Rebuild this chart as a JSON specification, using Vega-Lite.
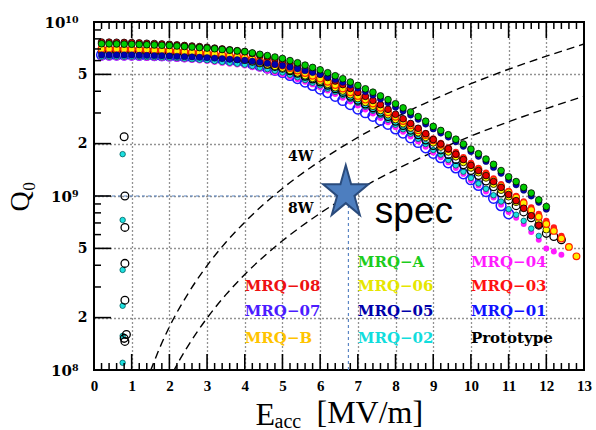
{
"$schema": "https://vega.github.io/schema/vega-lite/v6.json",
"width": 490, "height": 348,
"autosize": "none",
"padding": {"left": 94, "top": 22, "right": 12, "bottom": 60},
"background": "white",
"config": {"view": {"stroke": "black", "strokeWidth": 2}},
"resolve": {"axis": {"x": "independent", "y": "independent"}},
"datasets": {
"w4": [{"e":1.5,"q":9.9e7},{"e":1.75,"q":1.35e8},{"e":2.0,"q":1.77e8},{"e":2.5,"q":2.76e8},{"e":3.0,"q":3.98e8},{"e":3.5,"q":5.42e8},{"e":4.0,"q":7.07e8},{"e":4.5,"q":8.95e8},{"e":5.0,"q":1.105e9},{"e":6.0,"q":1.59e9},{"e":7.0,"q":2.17e9},{"e":8.0,"q":2.83e9},{"e":9.0,"q":3.58e9},{"e":10.0,"q":4.42e9},{"e":11.0,"q":5.35e9},{"e":12.0,"q":6.36e9},{"e":13.0,"q":7.47e9}],
"w8": [{"e":2.1,"q":9.75e7},{"e":2.25,"q":1.12e8},{"e":2.5,"q":1.38e8},{"e":3.0,"q":1.99e8},{"e":3.5,"q":2.71e8},{"e":4.0,"q":3.54e8},{"e":4.5,"q":4.48e8},{"e":5.0,"q":5.53e8},{"e":6.0,"q":7.96e8},{"e":7.0,"q":1.083e9},{"e":8.0,"q":1.414e9},{"e":9.0,"q":1.79e9},{"e":10.0,"q":2.21e9},{"e":11.0,"q":2.67e9},{"e":12.0,"q":3.18e9},{"e":13.0,"q":3.74e9}],
"mrq01": [{"e":0.2,"q":6.46e9},{"e":0.4,"q":6.46e9},{"e":0.6,"q":6.46e9},{"e":0.8,"q":6.46e9},{"e":1.0,"q":6.46e9},{"e":1.2,"q":6.44e9},{"e":1.4,"q":6.43e9},{"e":1.6,"q":6.41e9},{"e":1.8,"q":6.40e9},{"e":2.0,"q":6.38e9},{"e":2.2,"q":6.35e9},{"e":2.4,"q":6.32e9},{"e":2.6,"q":6.30e9},{"e":2.8,"q":6.27e9},{"e":3.0,"q":6.24e9},{"e":3.2,"q":6.17e9},{"e":3.4,"q":6.10e9},{"e":3.6,"q":6.03e9},{"e":3.8,"q":5.96e9},{"e":4.0,"q":5.89e9},{"e":4.2,"q":5.74e9},{"e":4.4,"q":5.59e9},{"e":4.6,"q":5.43e9},{"e":4.8,"q":5.28e9},{"e":5.0,"q":5.13e9},{"e":5.2,"q":4.93e9},{"e":5.4,"q":4.73e9},{"e":5.6,"q":4.52e9},{"e":5.8,"q":4.32e9},{"e":6.0,"q":4.12e9},{"e":6.2,"q":3.93e9},{"e":6.4,"q":3.74e9},{"e":6.6,"q":3.54e9},{"e":6.8,"q":3.35e9},{"e":7.0,"q":3.16e9},{"e":7.2,"q":3.01e9},{"e":7.4,"q":2.87e9},{"e":7.6,"q":2.72e9},{"e":7.8,"q":2.58e9},{"e":8.0,"q":2.43e9},{"e":8.2,"q":2.30e9},{"e":8.4,"q":2.16e9},{"e":8.6,"q":2.03e9},{"e":8.8,"q":1.89e9},{"e":9.0,"q":1.76e9},{"e":9.2,"q":1.66e9},{"e":9.4,"q":1.55e9},{"e":9.6,"q":1.45e9},{"e":9.8,"q":1.34e9},{"e":10.0,"q":1.24e9},{"e":10.2,"q":1.15e9},{"e":10.4,"q":1.06e9},{"e":10.6,"q":0.97e9},{"e":10.8,"q":0.88e9},{"e":11.0,"q":0.79e9}],
"mrq04": [{"e":0.2,"q":6.24e9},{"e":0.4,"q":6.24e9},{"e":0.6,"q":6.24e9},{"e":0.8,"q":6.24e9},{"e":1.0,"q":6.24e9},{"e":1.2,"q":6.23e9},{"e":1.4,"q":6.21e9},{"e":1.6,"q":6.20e9},{"e":1.8,"q":6.18e9},{"e":2.0,"q":6.17e9},{"e":2.2,"q":6.13e9},{"e":2.4,"q":6.09e9},{"e":2.6,"q":6.04e9},{"e":2.8,"q":6.00e9},{"e":3.0,"q":5.96e9},{"e":3.2,"q":5.89e9},{"e":3.4,"q":5.82e9},{"e":3.6,"q":5.76e9},{"e":3.8,"q":5.69e9},{"e":4.0,"q":5.62e9},{"e":4.2,"q":5.50e9},{"e":4.4,"q":5.38e9},{"e":4.6,"q":5.25e9},{"e":4.8,"q":5.13e9},{"e":5.0,"q":5.01e9},{"e":5.2,"q":4.85e9},{"e":5.4,"q":4.69e9},{"e":5.6,"q":4.54e9},{"e":5.8,"q":4.38e9},{"e":6.0,"q":4.22e9},{"e":6.2,"q":4.04e9},{"e":6.4,"q":3.86e9},{"e":6.6,"q":3.67e9},{"e":6.8,"q":3.49e9},{"e":7.0,"q":3.31e9},{"e":7.2,"q":3.14e9},{"e":7.4,"q":2.98e9},{"e":7.6,"q":2.81e9},{"e":7.8,"q":2.65e9},{"e":8.0,"q":2.48e9},{"e":8.2,"q":2.34e9},{"e":8.4,"q":2.20e9},{"e":8.6,"q":2.06e9},{"e":8.8,"q":1.92e9},{"e":9.0,"q":1.78e9},{"e":9.2,"q":1.67e9},{"e":9.4,"q":1.56e9},{"e":9.6,"q":1.45e9},{"e":9.8,"q":1.34e9},{"e":10.0,"q":1.23e9},{"e":10.2,"q":1.15e9},{"e":10.4,"q":1.06e9},{"e":10.6,"q":0.98e9},{"e":10.8,"q":0.89e9},{"e":11.0,"q":0.81e9},{"e":11.2,"q":0.75e9},{"e":11.4,"q":0.69e9},{"e":11.6,"q":0.62e9},{"e":11.8,"q":0.56e9},{"e":12.0,"q":0.50e9},{"e":12.2,"q":0.48e9},{"e":12.4,"q":0.46e9}],
"mrq02": [{"e":0.2,"q":6.31e9},{"e":0.4,"q":6.31e9},{"e":0.6,"q":6.31e9},{"e":0.8,"q":6.31e9},{"e":1.0,"q":6.31e9},{"e":1.2,"q":6.30e9},{"e":1.4,"q":6.28e9},{"e":1.6,"q":6.27e9},{"e":1.8,"q":6.25e9},{"e":2.0,"q":6.24e9},{"e":2.2,"q":6.20e9},{"e":2.4,"q":6.16e9},{"e":2.6,"q":6.11e9},{"e":2.8,"q":6.07e9},{"e":3.0,"q":6.03e9},{"e":3.2,"q":5.96e9},{"e":3.4,"q":5.89e9},{"e":3.6,"q":5.83e9},{"e":3.8,"q":5.76e9},{"e":4.0,"q":5.69e9},{"e":4.2,"q":5.58e9},{"e":4.4,"q":5.46e9},{"e":4.6,"q":5.36e9},{"e":4.8,"q":5.24e9},{"e":5.0,"q":5.13e9},{"e":5.2,"q":4.97e9},{"e":5.4,"q":4.81e9},{"e":5.6,"q":4.64e9},{"e":5.8,"q":4.48e9},{"e":6.0,"q":4.32e9},{"e":6.2,"q":4.14e9},{"e":6.4,"q":3.97e9},{"e":6.6,"q":3.79e9},{"e":6.8,"q":3.61e9},{"e":7.0,"q":3.43e9},{"e":7.2,"q":3.26e9},{"e":7.4,"q":3.09e9},{"e":7.6,"q":2.91e9},{"e":7.8,"q":2.74e9},{"e":8.0,"q":2.57e9},{"e":8.2,"q":2.42e9},{"e":8.4,"q":2.28e9},{"e":8.6,"q":2.13e9},{"e":8.8,"q":1.99e9},{"e":9.0,"q":1.84e9},{"e":9.2,"q":1.73e9},{"e":9.4,"q":1.61e9},{"e":9.6,"q":1.50e9},{"e":9.8,"q":1.38e9},{"e":10.0,"q":1.27e9},{"e":10.2,"q":1.18e9},{"e":10.4,"q":1.10e9},{"e":10.6,"q":1.01e9},{"e":10.8,"q":0.93e9},{"e":11.0,"q":0.84e9},{"e":11.2,"q":0.78e9},{"e":11.4,"q":0.72e9},{"e":11.6,"q":0.65e9},{"e":11.8,"q":0.59e9},{"e":0.76,"q":1.74e9},{"e":0.76,"q":7.28e8},{"e":0.76,"q":3.76e8},{"e":0.76,"q":2.34e8},{"e":0.76,"q":1.57e8},{"e":0.76,"q":1.1e8}],
"proto": [{"e":0.4,"q":6.92e9},{"e":0.6,"q":6.91e9},{"e":0.8,"q":6.90e9},{"e":1.0,"q":6.89e9},{"e":1.2,"q":6.86e9},{"e":1.4,"q":6.84e9},{"e":1.6,"q":6.81e9},{"e":1.8,"q":6.79e9},{"e":2.0,"q":6.76e9},{"e":2.2,"q":6.71e9},{"e":2.4,"q":6.65e9},{"e":2.6,"q":6.60e9},{"e":2.8,"q":6.54e9},{"e":3.0,"q":6.49e9},{"e":3.2,"q":6.41e9},{"e":3.4,"q":6.33e9},{"e":3.6,"q":6.26e9},{"e":3.8,"q":6.18e9},{"e":4.0,"q":6.10e9},{"e":4.2,"q":5.97e9},{"e":4.4,"q":5.83e9},{"e":4.6,"q":5.70e9},{"e":4.8,"q":5.56e9},{"e":5.0,"q":5.43e9},{"e":5.2,"q":5.25e9},{"e":5.4,"q":5.07e9},{"e":5.6,"q":4.88e9},{"e":5.8,"q":4.70e9},{"e":6.0,"q":4.52e9},{"e":6.2,"q":4.33e9},{"e":6.4,"q":4.13e9},{"e":6.6,"q":3.94e9},{"e":6.8,"q":3.74e9},{"e":7.0,"q":3.55e9},{"e":7.2,"q":3.38e9},{"e":7.4,"q":3.21e9},{"e":7.6,"q":3.03e9},{"e":7.8,"q":2.86e9},{"e":8.0,"q":2.69e9},{"e":8.2,"q":2.54e9},{"e":8.4,"q":2.39e9},{"e":8.6,"q":2.25e9},{"e":8.8,"q":2.10e9},{"e":9.0,"q":1.95e9},{"e":9.2,"q":1.84e9},{"e":9.4,"q":1.73e9},{"e":9.6,"q":1.62e9},{"e":9.8,"q":1.51e9},{"e":10.0,"q":1.40e9},{"e":10.2,"q":1.31e9},{"e":10.4,"q":1.22e9},{"e":10.6,"q":1.13e9},{"e":10.8,"q":1.04e9},{"e":11.0,"q":0.95e9},{"e":11.2,"q":0.88e9},{"e":11.4,"q":0.81e9},{"e":11.6,"q":0.75e9},{"e":11.8,"q":0.68e9},{"e":12.0,"q":0.61e9},{"e":12.2,"q":0.585e9},{"e":12.4,"q":0.56e9},{"e":0.80,"q":2.19e9},{"e":0.82,"q":1.0e9},{"e":0.82,"q":6.6e8},{"e":0.82,"q":4.1e8},{"e":0.82,"q":2.52e8},{"e":0.86,"q":1.6e8},{"e":0.82,"q":1.46e8},{"e":0.80,"q":1.52e8}],
"mrq06": [{"e":0.2,"q":6.76e9},{"e":0.4,"q":6.75e9},{"e":0.6,"q":6.75e9},{"e":0.8,"q":6.74e9},{"e":1.0,"q":6.73e9},{"e":1.2,"q":6.71e9},{"e":1.4,"q":6.68e9},{"e":1.6,"q":6.66e9},{"e":1.8,"q":6.63e9},{"e":2.0,"q":6.61e9},{"e":2.2,"q":6.56e9},{"e":2.4,"q":6.52e9},{"e":2.6,"q":6.47e9},{"e":2.8,"q":6.43e9},{"e":3.0,"q":6.38e9},{"e":3.2,"q":6.31e9},{"e":3.4,"q":6.24e9},{"e":3.6,"q":6.17e9},{"e":3.8,"q":6.10e9},{"e":4.0,"q":6.03e9},{"e":4.2,"q":5.91e9},{"e":4.4,"q":5.79e9},{"e":4.6,"q":5.67e9},{"e":4.8,"q":5.55e9},{"e":5.0,"q":5.43e9},{"e":5.2,"q":5.26e9},{"e":5.4,"q":5.09e9},{"e":5.6,"q":4.91e9},{"e":5.8,"q":4.74e9},{"e":6.0,"q":4.57e9},{"e":6.2,"q":4.38e9},{"e":6.4,"q":4.19e9},{"e":6.6,"q":4.01e9},{"e":6.8,"q":3.82e9},{"e":7.0,"q":3.63e9},{"e":7.2,"q":3.45e9},{"e":7.4,"q":3.28e9},{"e":7.6,"q":3.10e9},{"e":7.8,"q":2.93e9},{"e":8.0,"q":2.75e9},{"e":8.2,"q":2.60e9},{"e":8.4,"q":2.46e9},{"e":8.6,"q":2.31e9},{"e":8.8,"q":2.17e9},{"e":9.0,"q":2.02e9},{"e":9.2,"q":1.91e9},{"e":9.4,"q":1.79e9},{"e":9.6,"q":1.68e9},{"e":9.8,"q":1.56e9},{"e":10.0,"q":1.45e9},{"e":10.2,"q":1.36e9},{"e":10.4,"q":1.27e9},{"e":10.6,"q":1.17e9},{"e":10.8,"q":1.08e9},{"e":11.0,"q":0.99e9},{"e":11.2,"q":0.92e9},{"e":11.4,"q":0.85e9},{"e":11.6,"q":0.78e9},{"e":11.8,"q":0.71e9},{"e":12.0,"q":0.64e9}],
"mrq03": [{"e":0.2,"q":7.41e9},{"e":0.4,"q":7.40e9},{"e":0.6,"q":7.40e9},{"e":0.8,"q":7.39e9},{"e":1.0,"q":7.38e9},{"e":1.2,"q":7.35e9},{"e":1.4,"q":7.32e9},{"e":1.6,"q":7.30e9},{"e":1.8,"q":7.27e9},{"e":2.0,"q":7.24e9},{"e":2.2,"q":7.19e9},{"e":2.4,"q":7.13e9},{"e":2.6,"q":7.08e9},{"e":2.8,"q":7.02e9},{"e":3.0,"q":6.97e9},{"e":3.2,"q":6.88e9},{"e":3.4,"q":6.79e9},{"e":3.6,"q":6.71e9},{"e":3.8,"q":6.62e9},{"e":4.0,"q":6.53e9},{"e":4.2,"q":6.39e9},{"e":4.4,"q":6.25e9},{"e":4.6,"q":6.10e9},{"e":4.8,"q":5.96e9},{"e":5.0,"q":5.82e9},{"e":5.2,"q":5.64e9},{"e":5.4,"q":5.45e9},{"e":5.6,"q":5.27e9},{"e":5.8,"q":5.08e9},{"e":6.0,"q":4.90e9},{"e":6.2,"q":4.70e9},{"e":6.4,"q":4.50e9},{"e":6.6,"q":4.29e9},{"e":6.8,"q":4.09e9},{"e":7.0,"q":3.89e9},{"e":7.2,"q":3.70e9},{"e":7.4,"q":3.50e9},{"e":7.6,"q":3.31e9},{"e":7.8,"q":3.11e9},{"e":8.0,"q":2.92e9},{"e":8.2,"q":2.76e9},{"e":8.4,"q":2.61e9},{"e":8.6,"q":2.45e9},{"e":8.8,"q":2.30e9},{"e":9.0,"q":2.14e9},{"e":9.2,"q":2.02e9},{"e":9.4,"q":1.90e9},{"e":9.6,"q":1.79e9},{"e":9.8,"q":1.67e9},{"e":10.0,"q":1.55e9},{"e":10.2,"q":1.45e9},{"e":10.4,"q":1.36e9},{"e":10.6,"q":1.26e9},{"e":10.8,"q":1.17e9},{"e":11.0,"q":1.07e9},{"e":11.2,"q":1.00e9},{"e":11.4,"q":0.93e9},{"e":11.6,"q":0.86e9},{"e":11.8,"q":0.79e9},{"e":12.0,"q":0.72e9},{"e":12.2,"q":0.66e9},{"e":12.4,"q":0.59e9}],
"mrqB": [{"e":0.2,"q":7.00e9},{"e":0.4,"q":7.00e9},{"e":0.6,"q":6.99e9},{"e":0.8,"q":6.98e9},{"e":1.0,"q":6.97e9},{"e":1.2,"q":6.94e9},{"e":1.4,"q":6.92e9},{"e":1.6,"q":6.89e9},{"e":1.8,"q":6.87e9},{"e":2.0,"q":6.84e9},{"e":2.2,"q":6.79e9},{"e":2.4,"q":6.75e9},{"e":2.6,"q":6.70e9},{"e":2.8,"q":6.66e9},{"e":3.0,"q":6.61e9},{"e":3.2,"q":6.54e9},{"e":3.4,"q":6.46e9},{"e":3.6,"q":6.39e9},{"e":3.8,"q":6.31e9},{"e":4.0,"q":6.24e9},{"e":4.2,"q":6.12e9},{"e":4.4,"q":5.99e9},{"e":4.6,"q":5.87e9},{"e":4.8,"q":5.74e9},{"e":5.0,"q":5.62e9},{"e":5.2,"q":5.44e9},{"e":5.4,"q":5.26e9},{"e":5.6,"q":5.09e9},{"e":5.8,"q":4.91e9},{"e":6.0,"q":4.73e9},{"e":6.2,"q":4.54e9},{"e":6.4,"q":4.34e9},{"e":6.6,"q":4.15e9},{"e":6.8,"q":3.95e9},{"e":7.0,"q":3.76e9},{"e":7.2,"q":3.58e9},{"e":7.4,"q":3.40e9},{"e":7.6,"q":3.21e9},{"e":7.8,"q":3.03e9},{"e":8.0,"q":2.85e9},{"e":8.2,"q":2.70e9},{"e":8.4,"q":2.55e9},{"e":8.6,"q":2.39e9},{"e":8.8,"q":2.24e9},{"e":9.0,"q":2.09e9},{"e":9.2,"q":1.97e9},{"e":9.4,"q":1.86e9},{"e":9.6,"q":1.74e9},{"e":9.8,"q":1.63e9},{"e":10.0,"q":1.51e9},{"e":10.2,"q":1.42e9},{"e":10.4,"q":1.33e9},{"e":10.6,"q":1.23e9},{"e":10.8,"q":1.14e9},{"e":11.0,"q":1.05e9},{"e":11.2,"q":0.98e9},{"e":11.4,"q":0.91e9},{"e":11.6,"q":0.83e9},{"e":11.8,"q":0.76e9},{"e":12.0,"q":0.69e9},{"e":12.2,"q":0.63e9},{"e":12.4,"q":0.57e9},{"e":12.6,"q":0.51e9},{"e":12.8,"q":0.45e9}],
"mrq08": [{"e":0.2,"q":7.67e9},{"e":0.4,"q":7.66e9},{"e":0.6,"q":7.65e9},{"e":0.8,"q":7.63e9},{"e":1.0,"q":7.62e9},{"e":1.2,"q":7.59e9},{"e":1.4,"q":7.55e9},{"e":1.6,"q":7.52e9},{"e":1.8,"q":7.48e9},{"e":2.0,"q":7.45e9},{"e":2.2,"q":7.39e9},{"e":2.4,"q":7.33e9},{"e":2.6,"q":7.28e9},{"e":2.8,"q":7.22e9},{"e":3.0,"q":7.16e9},{"e":3.2,"q":7.08e9},{"e":3.4,"q":7.00e9},{"e":3.6,"q":6.92e9},{"e":3.8,"q":6.84e9},{"e":4.0,"q":6.76e9},{"e":4.2,"q":6.60e9},{"e":4.4,"q":6.44e9},{"e":4.6,"q":6.28e9},{"e":4.8,"q":6.12e9},{"e":5.0,"q":5.96e9},{"e":5.2,"q":5.77e9},{"e":5.4,"q":5.58e9},{"e":5.6,"q":5.39e9},{"e":5.8,"q":5.20e9},{"e":6.0,"q":5.01e9},{"e":6.2,"q":4.80e9},{"e":6.4,"q":4.58e9},{"e":6.6,"q":4.37e9},{"e":6.8,"q":4.15e9},{"e":7.0,"q":3.94e9},{"e":7.2,"q":3.74e9},{"e":7.4,"q":3.54e9},{"e":7.6,"q":3.35e9},{"e":7.8,"q":3.15e9},{"e":8.0,"q":2.95e9},{"e":8.2,"q":2.78e9},{"e":8.4,"q":2.61e9},{"e":8.6,"q":2.45e9},{"e":8.8,"q":2.28e9},{"e":9.0,"q":2.11e9},{"e":9.2,"q":1.99e9},{"e":9.4,"q":1.87e9},{"e":9.6,"q":1.74e9},{"e":9.8,"q":1.62e9},{"e":10.0,"q":1.50e9},{"e":10.2,"q":1.40e9},{"e":10.4,"q":1.31e9},{"e":10.6,"q":1.21e9},{"e":10.8,"q":1.12e9},{"e":11.0,"q":1.02e9},{"e":11.2,"q":0.94e9},{"e":11.4,"q":0.85e9},{"e":11.6,"q":0.77e9},{"e":11.8,"q":0.68e9}],
"mrq05": [{"e":0.2,"q":6.46e9},{"e":0.4,"q":6.46e9},{"e":0.6,"q":6.46e9},{"e":0.8,"q":6.46e9},{"e":1.0,"q":6.46e9},{"e":1.2,"q":6.44e9},{"e":1.4,"q":6.43e9},{"e":1.6,"q":6.41e9},{"e":1.8,"q":6.40e9},{"e":2.0,"q":6.38e9},{"e":2.2,"q":6.35e9},{"e":2.4,"q":6.32e9},{"e":2.6,"q":6.30e9},{"e":2.8,"q":6.27e9},{"e":3.0,"q":6.24e9},{"e":3.2,"q":6.20e9},{"e":3.4,"q":6.16e9},{"e":3.6,"q":6.11e9},{"e":3.8,"q":6.07e9},{"e":4.0,"q":6.03e9},{"e":4.2,"q":5.95e9},{"e":4.4,"q":5.87e9},{"e":4.6,"q":5.78e9},{"e":4.8,"q":5.70e9},{"e":5.0,"q":5.62e9},{"e":5.2,"q":5.50e9},{"e":5.4,"q":5.38e9},{"e":5.6,"q":5.25e9},{"e":5.8,"q":5.13e9},{"e":6.0,"q":5.01e9},{"e":6.2,"q":4.84e9},{"e":6.4,"q":4.67e9},{"e":6.6,"q":4.51e9},{"e":6.8,"q":4.34e9},{"e":7.0,"q":4.17e9},{"e":7.2,"q":3.98e9},{"e":7.4,"q":3.80e9},{"e":7.6,"q":3.61e9},{"e":7.8,"q":3.43e9},{"e":8.0,"q":3.24e9},{"e":8.2,"q":3.08e9},{"e":8.4,"q":2.92e9},{"e":8.6,"q":2.76e9},{"e":8.8,"q":2.59e9},{"e":9.0,"q":2.43e9},{"e":9.2,"q":2.30e9},{"e":9.4,"q":2.18e9},{"e":9.6,"q":2.05e9},{"e":9.8,"q":1.93e9},{"e":10.0,"q":1.80e9},{"e":10.2,"q":1.69e9},{"e":10.4,"q":1.58e9},{"e":10.6,"q":1.46e9},{"e":10.8,"q":1.35e9},{"e":11.0,"q":1.24e9},{"e":11.2,"q":1.16e9},{"e":11.4,"q":1.08e9},{"e":11.6,"q":1.00e9},{"e":11.8,"q":0.92e9},{"e":12.0,"q":0.84e9}],
"mrqA": [{"e":0.2,"q":7.50e9},{"e":0.4,"q":7.49e9},{"e":0.6,"q":7.48e9},{"e":0.8,"q":7.46e9},{"e":1.0,"q":7.45e9},{"e":1.2,"q":7.43e9},{"e":1.4,"q":7.40e9},{"e":1.6,"q":7.38e9},{"e":1.8,"q":7.35e9},{"e":2.0,"q":7.33e9},{"e":2.2,"q":7.28e9},{"e":2.4,"q":7.23e9},{"e":2.6,"q":7.18e9},{"e":2.8,"q":7.13e9},{"e":3.0,"q":7.08e9},{"e":3.2,"q":7.02e9},{"e":3.4,"q":6.95e9},{"e":3.6,"q":6.89e9},{"e":3.8,"q":6.82e9},{"e":4.0,"q":6.76e9},{"e":4.2,"q":6.64e9},{"e":4.4,"q":6.52e9},{"e":4.6,"q":6.41e9},{"e":4.8,"q":6.29e9},{"e":5.0,"q":6.17e9},{"e":5.2,"q":6.00e9},{"e":5.4,"q":5.83e9},{"e":5.6,"q":5.65e9},{"e":5.8,"q":5.48e9},{"e":6.0,"q":5.31e9},{"e":6.2,"q":5.11e9},{"e":6.4,"q":4.91e9},{"e":6.6,"q":4.72e9},{"e":6.8,"q":4.52e9},{"e":7.0,"q":4.32e9},{"e":7.2,"q":4.13e9},{"e":7.4,"q":3.95e9},{"e":7.6,"q":3.76e9},{"e":7.8,"q":3.58e9},{"e":8.0,"q":3.39e9},{"e":8.2,"q":3.21e9},{"e":8.4,"q":3.04e9},{"e":8.6,"q":2.86e9},{"e":8.8,"q":2.69e9},{"e":9.0,"q":2.51e9},{"e":9.2,"q":2.38e9},{"e":9.4,"q":2.25e9},{"e":9.6,"q":2.12e9},{"e":9.8,"q":1.99e9},{"e":10.0,"q":1.86e9},{"e":10.2,"q":1.75e9},{"e":10.4,"q":1.63e9},{"e":10.6,"q":1.52e9},{"e":10.8,"q":1.40e9},{"e":11.0,"q":1.29e9},{"e":11.2,"q":1.21e9},{"e":11.4,"q":1.12e9},{"e":11.6,"q":1.04e9},{"e":11.8,"q":0.95e9},{"e":12.0,"q":0.87e9}],
"labels": [{"s":"MRQ−A","e":7,"q":4.175e8},{"s":"MRQ−04","e":10,"q":4.175e8},{"s":"MRQ−08","e":4,"q":3.04e8},{"s":"MRQ−06","e":7,"q":3.04e8},{"s":"MRQ−03","e":10,"q":3.04e8},{"s":"MRQ−07","e":4,"q":2.184e8},{"s":"MRQ−05","e":7,"q":2.184e8},{"s":"MRQ−01","e":10,"q":2.184e8},{"s":"MRQ−B","e":4,"q":1.537e8},{"s":"MRQ−02","e":7,"q":1.537e8},{"s":"Prototype","e":10,"q":1.537e8}]
},
"layer": [
{
"data": {"values": [{"e": 0, "e2": 6.75, "q": 1e9}]},
"mark": {"type": "rule", "color": "#5b85c4", "strokeDash": [3, 3], "strokeWidth": 1.2},
"encoding": {
"x": {"field": "e", "type": "quantitative", "scale": {"domain": [0, 13], "nice": false, "zero": false},
"axis": {"orient": "bottom",
"values": [0,1,2,3,4,5,6,7,8,9,10,11,12,13],
"labelExpr": "format(datum.value, 'd')",
"labelFont": "Liberation Serif", "labelFontSize": 15, "labelFontWeight": "bold", "labelColor": "black",
"labelPadding": 8, "labelFlush": false, "labelOverlap": false, "labelBound": false,
"ticks": false, "tickSize": 0, "domain": false,
"grid": true, "gridColor": "black", "gridDash": [1, 3], "gridWidth": 1.3,
"gridOpacity": {"condition": {"test": "datum.value > 0 && datum.value < 13", "value": 0.85}, "value": 0},
"title": "E", "titleFont": "Liberation Serif", "titleFontSize": 32, "titleFontWeight": "normal", "titleColor": "black",
"titleX": 161, "titleY": 54, "titleAlign": "left", "titleBaseline": "alphabetic", "titleAngle": 0}},
"x2": {"field": "e2"},
"y": {"field": "q", "type": "quantitative", "scale": {"type": "log", "domain": [1e8, 1e10], "nice": false},
"axis": {"orient": "left",
"values": [1e8,2e8,5e8,1e9,2e9,5e9,1e10],
"labelExpr": "datum.value == 1e10 ? '10¹⁰' : datum.value == 1e9 ? '10⁹' : datum.value == 1e8 ? '10⁸' : (datum.value == 5e9 || datum.value == 5e8) ? '5' : '2'",
"labelFont": "DejaVu Serif", "labelFontWeight": "bold", "labelColor": "black",
"labelFontSize": {"condition": {"test": "datum.value == 1e8 || datum.value == 1e9 || datum.value == 1e10", "value": 15}, "value": 14},
"labelPadding": {"condition": {"test": "datum.value == 1e8 || datum.value == 1e9 || datum.value == 1e10", "value": 16}, "value": 7},
"labelFlush": false, "labelOverlap": false, "labelBound": false,
"ticks": false, "tickSize": 0, "domain": false,
"grid": true, "gridColor": "black", "gridDash": [1, 3], "gridWidth": 1.3,
"gridOpacity": {"condition": {"test": "datum.value > 1e8 && datum.value < 1e10", "value": 0.85}, "value": 0},
"title": "Q₀", "titleFont": "Liberation Serif", "titleFontSize": 28, "titleFontWeight": "normal", "titleColor": "black",
"titleX": -74, "titleY": 174, "titleAngle": -90, "titleAlign": "center", "titleBaseline": "middle"}}
}
},
{
"data": {"values": [{"e": 6.75, "q": 1e8, "q2": 1e9}]},
"mark": {"type": "rule", "color": "#5b85c4", "strokeDash": [3, 3], "strokeWidth": 1.2},
"encoding": {
"x": {"field": "e", "type": "quantitative",
"axis": {"orient": "top", "values": [0], "labels": false, "ticks": false, "tickSize": 0, "domain": false, "grid": false,
"title": "acc", "titleFont": "Liberation Serif", "titleFontSize": 20, "titleFontWeight": "normal", "titleColor": "black",
"titleX": 180, "titleY": 405, "titleAlign": "left", "titleBaseline": "alphabetic", "titleAngle": 0}},
"y": {"field": "q", "type": "quantitative",
"axis": {"orient": "right", "values": [1e9], "ticks": false, "tickSize": 0, "labels": false, "domain": false, "grid": false,
"title": "[MV/m]", "titleFont": "Liberation Serif", "titleFontSize": 32, "titleFontWeight": "normal", "titleColor": "black",
"titleX": -268, "titleY": 400, "titleAlign": "left", "titleBaseline": "alphabetic", "titleAngle": 0}},
"y2": {"field": "q2"}
}
},
{
"data": {"name": "w4"},
"mark": {"type": "line", "color": "black", "strokeDash": [8, 5], "strokeWidth": 1.4, "clip": true, "interpolate": "monotone"},
"encoding": {"x": {"field": "e", "type": "quantitative", "axis": null}, "y": {"field": "q", "type": "quantitative", "axis": null}}
},
{
"data": {"name": "w8"},
"mark": {"type": "line", "color": "black", "strokeDash": [8, 5], "strokeWidth": 1.4, "clip": true, "interpolate": "monotone"},
"encoding": {"x": {"field": "e", "type": "quantitative", "axis": null}, "y": {"field": "q", "type": "quantitative", "axis": null}}
},
{
"data": {"values": [{"t": "4W", "e": 5.15, "q": 1.665e9}, {"t": "8W", "e": 5.15, "q": 8.42e8}]},
"mark": {"type": "text", "align": "left", "baseline": "middle", "font": "DejaVu Serif", "fontSize": 14, "fontWeight": "bold", "color": "black"},
"encoding": {"x": {"field": "e", "type": "quantitative", "axis": null}, "y": {"field": "q", "type": "quantitative", "axis": null}, "text": {"field": "t"}}
},
{
"data": {"name": "mrq01"},
"mark": {"type": "point", "shape": "circle", "filled": false, "stroke": "#1a1aff", "strokeWidth": 1.5, "size": 95, "opacity": 1},
"encoding": {"x": {"field": "e", "type": "quantitative", "axis": null}, "y": {"field": "q", "type": "quantitative", "axis": null}}
},
{
"data": {"name": "mrq04"},
"mark": {"type": "point", "shape": "circle", "filled": true, "fill": "#ff1aff", "strokeWidth": 0, "size": 35, "opacity": 1},
"encoding": {"x": {"field": "e", "type": "quantitative", "axis": null}, "y": {"field": "q", "type": "quantitative", "axis": null}}
},
{
"data": {"name": "mrq02"},
"mark": {"type": "point", "shape": "circle", "filled": true, "fill": "#1de0e0", "stroke": "#006060", "strokeWidth": 0.8, "size": 30, "opacity": 1},
"encoding": {"x": {"field": "e", "type": "quantitative", "axis": null}, "y": {"field": "q", "type": "quantitative", "axis": null}}
},
{
"data": {"name": "proto"},
"mark": {"type": "point", "shape": "circle", "filled": false, "stroke": "black", "strokeWidth": 1.3, "size": 60, "opacity": 1},
"encoding": {"x": {"field": "e", "type": "quantitative", "axis": null}, "y": {"field": "q", "type": "quantitative", "axis": null}}
},
{
"data": {"name": "mrq06"},
"mark": {"type": "point", "shape": "circle", "filled": true, "fill": "#ffff00", "stroke": "black", "strokeWidth": 0.8, "size": 45, "opacity": 1},
"encoding": {"x": {"field": "e", "type": "quantitative", "axis": null}, "y": {"field": "q", "type": "quantitative", "axis": null}}
},
{
"data": {"name": "mrq03"},
"mark": {"type": "point", "shape": "circle", "filled": true, "fill": "#ff1a1a", "strokeWidth": 0, "size": 40, "opacity": 1},
"encoding": {"x": {"field": "e", "type": "quantitative", "axis": null}, "y": {"field": "q", "type": "quantitative", "axis": null}}
},
{
"data": {"name": "mrqB"},
"mark": {"type": "point", "shape": "circle", "filled": true, "fill": "#ffee00", "stroke": "#ff2200", "strokeWidth": 1.2, "size": 45, "opacity": 1},
"encoding": {"x": {"field": "e", "type": "quantitative", "axis": null}, "y": {"field": "q", "type": "quantitative", "axis": null}}
},
{
"data": {"name": "mrq08"},
"mark": {"type": "point", "shape": "circle", "filled": true, "fill": "#e60000", "stroke": "black", "strokeWidth": 0.8, "size": 45, "opacity": 1},
"encoding": {"x": {"field": "e", "type": "quantitative", "axis": null}, "y": {"field": "q", "type": "quantitative", "axis": null}}
},
{
"data": {"name": "mrq05"},
"mark": {"type": "point", "shape": "circle", "filled": true, "fill": "#0000b0", "stroke": "#000050", "strokeWidth": 0.5, "size": 40, "opacity": 1},
"encoding": {"x": {"field": "e", "type": "quantitative", "axis": null}, "y": {"field": "q", "type": "quantitative", "axis": null}}
},
{
"data": {"name": "mrqA"},
"mark": {"type": "point", "shape": "circle", "filled": true, "fill": "#00cc00", "stroke": "black", "strokeWidth": 0.8, "size": 45, "opacity": 1},
"encoding": {"x": {"field": "e", "type": "quantitative", "axis": null}, "y": {"field": "q", "type": "quantitative", "axis": null}}
},
{
"data": {"name": "labels"},
"mark": {"type": "text", "align": "left", "baseline": "middle", "font": "DejaVu Serif", "fontSize": 15, "fontWeight": "bold"},
"encoding": {"x": {"field": "e", "type": "quantitative", "axis": null}, "y": {"field": "q", "type": "quantitative", "axis": null}, "text": {"field": "s"},
"color": {"field": "s", "type": "nominal", "legend": null,
"scale": {"domain": ["MRQ−A","MRQ−04","MRQ−08","MRQ−06","MRQ−03","MRQ−07","MRQ−05","MRQ−01","MRQ−B","MRQ−02","Prototype"],
"range": ["#1ccc1c","#ff1aff","#ee1111","#e6e600","#ff1111","#4b1cff","#0000aa","#1111ff","#ffc400","#11dddd","#000000"]}}}
},
{
"data": {"values": [{"e": 6.68, "q": 1.045e9}]},
"mark": {"type": "point", "shape": "M0,-1L0.195,-0.309L0.827,-0.309L0.316,0.118L0.512,0.809L0,0.382L-0.512,0.809L-0.316,0.118L-0.827,-0.309L-0.195,-0.309Z", "filled": true, "fill": "#4d7ebf", "stroke": "#2a4b7c", "strokeWidth": 2, "size": 3000, "opacity": 1},
"encoding": {"x": {"field": "e", "type": "quantitative", "axis": null}, "y": {"field": "q", "type": "quantitative", "axis": null}}
},
{
"data": {"values": [{"t": "spec", "e": 7.45, "q": 6.95e8}]},
"mark": {"type": "text", "align": "left", "baseline": "alphabetic", "font": "Liberation Sans", "fontSize": 37, "color": "black"},
"encoding": {"x": {"field": "e", "type": "quantitative", "axis": null}, "y": {"field": "q", "type": "quantitative", "axis": null}, "text": {"field": "t"}}
},
{
"data": {"values": [{"e":1,"q":1e8},{"e":2,"q":1e8},{"e":3,"q":1e8},{"e":4,"q":1e8},{"e":5,"q":1e8},{"e":6,"q":1e8},{"e":7,"q":1e8},{"e":8,"q":1e8},{"e":9,"q":1e8},{"e":10,"q":1e8},{"e":11,"q":1e8},{"e":12,"q":1e8}]},
"mark": {"type": "point", "shape": "M0,0L0,-2", "filled": false, "stroke": "black", "strokeWidth": 1.6, "size": 256, "opacity": 1},
"encoding": {"x": {"field": "e", "type": "quantitative", "axis": null}, "y": {"field": "q", "type": "quantitative", "axis": null}}
},
{
"data": {"values": [{"e":1,"q":1e10},{"e":2,"q":1e10},{"e":3,"q":1e10},{"e":4,"q":1e10},{"e":5,"q":1e10},{"e":6,"q":1e10},{"e":7,"q":1e10},{"e":8,"q":1e10},{"e":9,"q":1e10},{"e":10,"q":1e10},{"e":11,"q":1e10},{"e":12,"q":1e10}]},
"mark": {"type": "point", "shape": "M0,0L0,2", "filled": false, "stroke": "black", "strokeWidth": 1.6, "size": 256, "opacity": 1},
"encoding": {"x": {"field": "e", "type": "quantitative", "axis": null}, "y": {"field": "q", "type": "quantitative", "axis": null}}
},
{
"data": {"values": [{"e":0.2,"q":1e8},{"e":0.4,"q":1e8},{"e":0.6,"q":1e8},{"e":0.8,"q":1e8},{"e":1.2,"q":1e8},{"e":1.4,"q":1e8},{"e":1.6,"q":1e8},{"e":1.8,"q":1e8},{"e":2.2,"q":1e8},{"e":2.4,"q":1e8},{"e":2.6,"q":1e8},{"e":2.8,"q":1e8},{"e":3.2,"q":1e8},{"e":3.4,"q":1e8},{"e":3.6,"q":1e8},{"e":3.8,"q":1e8},{"e":4.2,"q":1e8},{"e":4.4,"q":1e8},{"e":4.6,"q":1e8},{"e":4.8,"q":1e8},{"e":5.2,"q":1e8},{"e":5.4,"q":1e8},{"e":5.6,"q":1e8},{"e":5.8,"q":1e8},{"e":6.2,"q":1e8},{"e":6.4,"q":1e8},{"e":6.6,"q":1e8},{"e":6.8,"q":1e8},{"e":7.2,"q":1e8},{"e":7.4,"q":1e8},{"e":7.6,"q":1e8},{"e":7.8,"q":1e8},{"e":8.2,"q":1e8},{"e":8.4,"q":1e8},{"e":8.6,"q":1e8},{"e":8.8,"q":1e8},{"e":9.2,"q":1e8},{"e":9.4,"q":1e8},{"e":9.6,"q":1e8},{"e":9.8,"q":1e8},{"e":10.2,"q":1e8},{"e":10.4,"q":1e8},{"e":10.6,"q":1e8},{"e":10.8,"q":1e8},{"e":11.2,"q":1e8},{"e":11.4,"q":1e8},{"e":11.6,"q":1e8},{"e":11.8,"q":1e8},{"e":12.2,"q":1e8},{"e":12.4,"q":1e8},{"e":12.6,"q":1e8},{"e":12.8,"q":1e8}]},
"mark": {"type": "point", "shape": "M0,0L0,-2", "filled": false, "stroke": "black", "strokeWidth": 1.5, "size": 49, "opacity": 1},
"encoding": {"x": {"field": "e", "type": "quantitative", "axis": null}, "y": {"field": "q", "type": "quantitative", "axis": null}}
},
{
"data": {"values": [{"e":0.2,"q":1e10},{"e":0.4,"q":1e10},{"e":0.6,"q":1e10},{"e":0.8,"q":1e10},{"e":1.2,"q":1e10},{"e":1.4,"q":1e10},{"e":1.6,"q":1e10},{"e":1.8,"q":1e10},{"e":2.2,"q":1e10},{"e":2.4,"q":1e10},{"e":2.6,"q":1e10},{"e":2.8,"q":1e10},{"e":3.2,"q":1e10},{"e":3.4,"q":1e10},{"e":3.6,"q":1e10},{"e":3.8,"q":1e10},{"e":4.2,"q":1e10},{"e":4.4,"q":1e10},{"e":4.6,"q":1e10},{"e":4.8,"q":1e10},{"e":5.2,"q":1e10},{"e":5.4,"q":1e10},{"e":5.6,"q":1e10},{"e":5.8,"q":1e10},{"e":6.2,"q":1e10},{"e":6.4,"q":1e10},{"e":6.6,"q":1e10},{"e":6.8,"q":1e10},{"e":7.2,"q":1e10},{"e":7.4,"q":1e10},{"e":7.6,"q":1e10},{"e":7.8,"q":1e10},{"e":8.2,"q":1e10},{"e":8.4,"q":1e10},{"e":8.6,"q":1e10},{"e":8.8,"q":1e10},{"e":9.2,"q":1e10},{"e":9.4,"q":1e10},{"e":9.6,"q":1e10},{"e":9.8,"q":1e10},{"e":10.2,"q":1e10},{"e":10.4,"q":1e10},{"e":10.6,"q":1e10},{"e":10.8,"q":1e10},{"e":11.2,"q":1e10},{"e":11.4,"q":1e10},{"e":11.6,"q":1e10},{"e":11.8,"q":1e10},{"e":12.2,"q":1e10},{"e":12.4,"q":1e10},{"e":12.6,"q":1e10},{"e":12.8,"q":1e10}]},
"mark": {"type": "point", "shape": "M0,0L0,2", "filled": false, "stroke": "black", "strokeWidth": 1.5, "size": 49, "opacity": 1},
"encoding": {"x": {"field": "e", "type": "quantitative", "axis": null}, "y": {"field": "q", "type": "quantitative", "axis": null}}
},
{
"data": {"values": [{"e":0,"q":2e8},{"e":0,"q":5e8},{"e":0,"q":1e9},{"e":0,"q":2e9},{"e":0,"q":5e9}]},
"mark": {"type": "point", "shape": "M0,0L2,0", "filled": false, "stroke": "black", "strokeWidth": 1.6, "size": 289, "opacity": 1},
"encoding": {"x": {"field": "e", "type": "quantitative", "axis": null}, "y": {"field": "q", "type": "quantitative", "axis": null}}
},
{
"data": {"values": [{"e":0,"q":3e8},{"e":0,"q":4e8},{"e":0,"q":6e8},{"e":0,"q":7e8},{"e":0,"q":8e8},{"e":0,"q":9e8},{"e":0,"q":3e9},{"e":0,"q":4e9},{"e":0,"q":6e9},{"e":0,"q":7e9},{"e":0,"q":8e9},{"e":0,"q":9e9}]},
"mark": {"type": "point", "shape": "M0,0L2,0", "filled": false, "stroke": "black", "strokeWidth": 1.5, "size": 49, "opacity": 1},
"encoding": {"x": {"field": "e", "type": "quantitative", "axis": null}, "y": {"field": "q", "type": "quantitative", "axis": null}}
}
]
}
